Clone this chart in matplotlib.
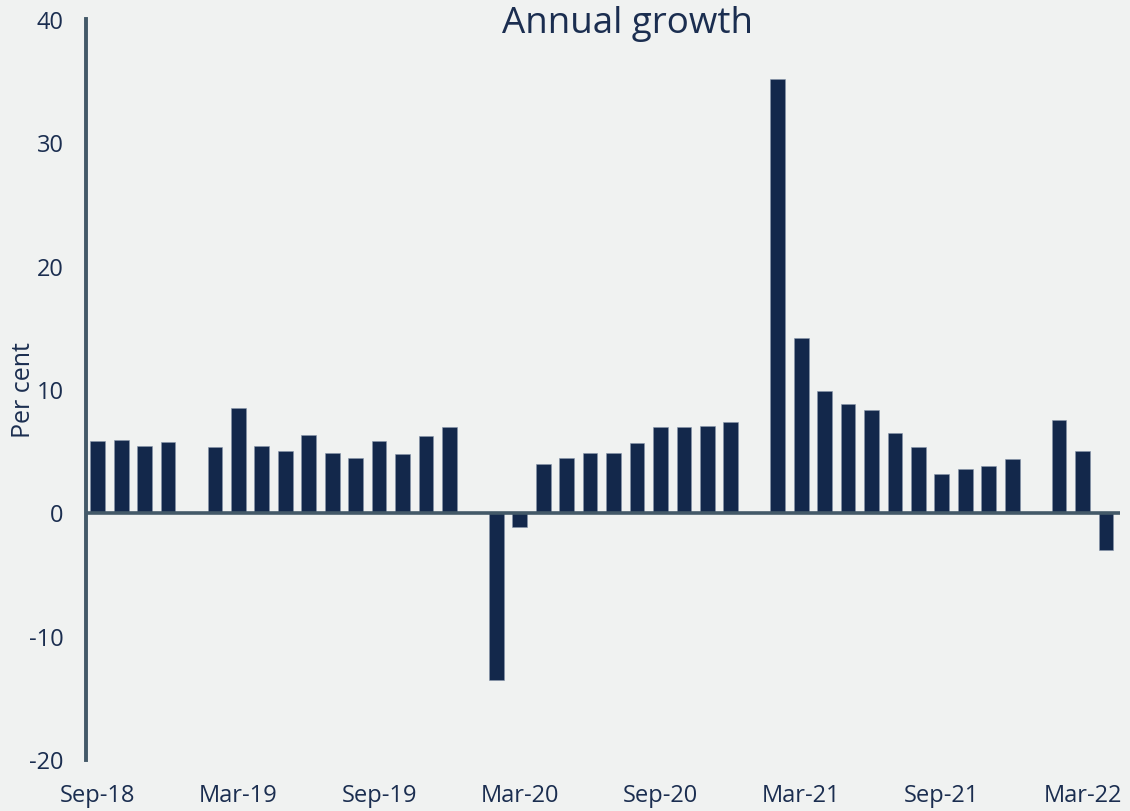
import numpy as np
import matplotlib
matplotlib.use("Agg")
import matplotlib.pyplot as plt

plt.rcParams['font.family'] = ['Open Sans', 'DejaVu Sans']

# Monthly categories Sep-18 .. Apr-22 (January observations missing)
months = ["Sep-18", "Oct-18", "Nov-18", "Dec-18", "Jan-19", "Feb-19", "Mar-19", "Apr-19",
          "May-19", "Jun-19", "Jul-19", "Aug-19", "Sep-19", "Oct-19", "Nov-19", "Dec-19",
          "Jan-20", "Feb-20", "Mar-20", "Apr-20", "May-20", "Jun-20", "Jul-20", "Aug-20",
          "Sep-20", "Oct-20", "Nov-20", "Dec-20", "Jan-21", "Feb-21", "Mar-21", "Apr-21",
          "May-21", "Jun-21", "Jul-21", "Aug-21", "Sep-21", "Oct-21", "Nov-21", "Dec-21",
          "Jan-22", "Feb-22", "Mar-22", "Apr-22"]
growth = [5.8, 5.9, 5.4, 5.7, np.nan, 5.3, 8.5, 5.4,
          5.0, 6.3, 4.8, 4.4, 5.8, 4.7, 6.2, 6.9,
          np.nan, -13.6, -1.2, 3.9, 4.4, 4.8, 4.8, 5.6,
          6.9, 6.9, 7.0, 7.3, np.nan, 35.1, 14.1, 9.8,
          8.8, 8.3, 6.4, 5.3, 3.1, 3.5, 3.8, 4.3,
          np.nan, 7.5, 5.0, -3.0]
tick_labels = ["Sep-18", "Mar-19", "Sep-19", "Mar-20", "Sep-20", "Mar-21", "Sep-21", "Mar-22"]
y_ticks = [-20, -10, 0, 10, 20, 30, 40]

bg = '#f0f2f1'
bar_col = '#13284b'
axis_col = '#435968'
text_col = '#1b2e50'

W, H = 1130, 812
fig = plt.figure(figsize=(W / 100, H / 100), dpi=100, facecolor=bg)
ax = fig.add_axes([86 / W, 1 - 760.5 / H, (1120 - 86) / W, (760.5 - 19.5) / H])
ax.set_facecolor(bg)

x = np.arange(len(months))
vals = np.array(growth, dtype=float)
mask = ~np.isnan(vals)
ax.bar(x[mask], vals[mask], width=0.63, color=bar_col, edgecolor='#8796ab',
       linewidth=0.4, zorder=2)

ax.set_xlim(-0.5, 43.6)
ax.set_ylim(-20, 40)
ax.axhline(0, color=axis_col, lw=2.6, zorder=3)

for s in ['top', 'right', 'bottom']:
    ax.spines[s].set_visible(False)
ax.spines['left'].set_color(axis_col)
ax.spines['left'].set_linewidth(2.8)

tick_pos = [months.index(t) for t in tick_labels]
ax.set_xticks(tick_pos)
ax.set_xticklabels(tick_labels)
ax.set_yticks(y_ticks)
ax.set_yticklabels([str(v) for v in y_ticks])
ax.tick_params(axis='both', length=0, labelsize=17, colors=text_col)
ax.tick_params(axis='x', pad=17)
ax.tick_params(axis='y', pad=16)

fig.text(24 / W, 1 - 390 / H, "Per cent", rotation=90, ha='center', va='center',
         fontsize=18, color=text_col)
fig.text(627 / W, 1 - 24 / H, "Annual growth", ha='center', va='center',
         fontsize=26.5, color=text_col)

fig.savefig("out.png", dpi=100, facecolor=bg)
